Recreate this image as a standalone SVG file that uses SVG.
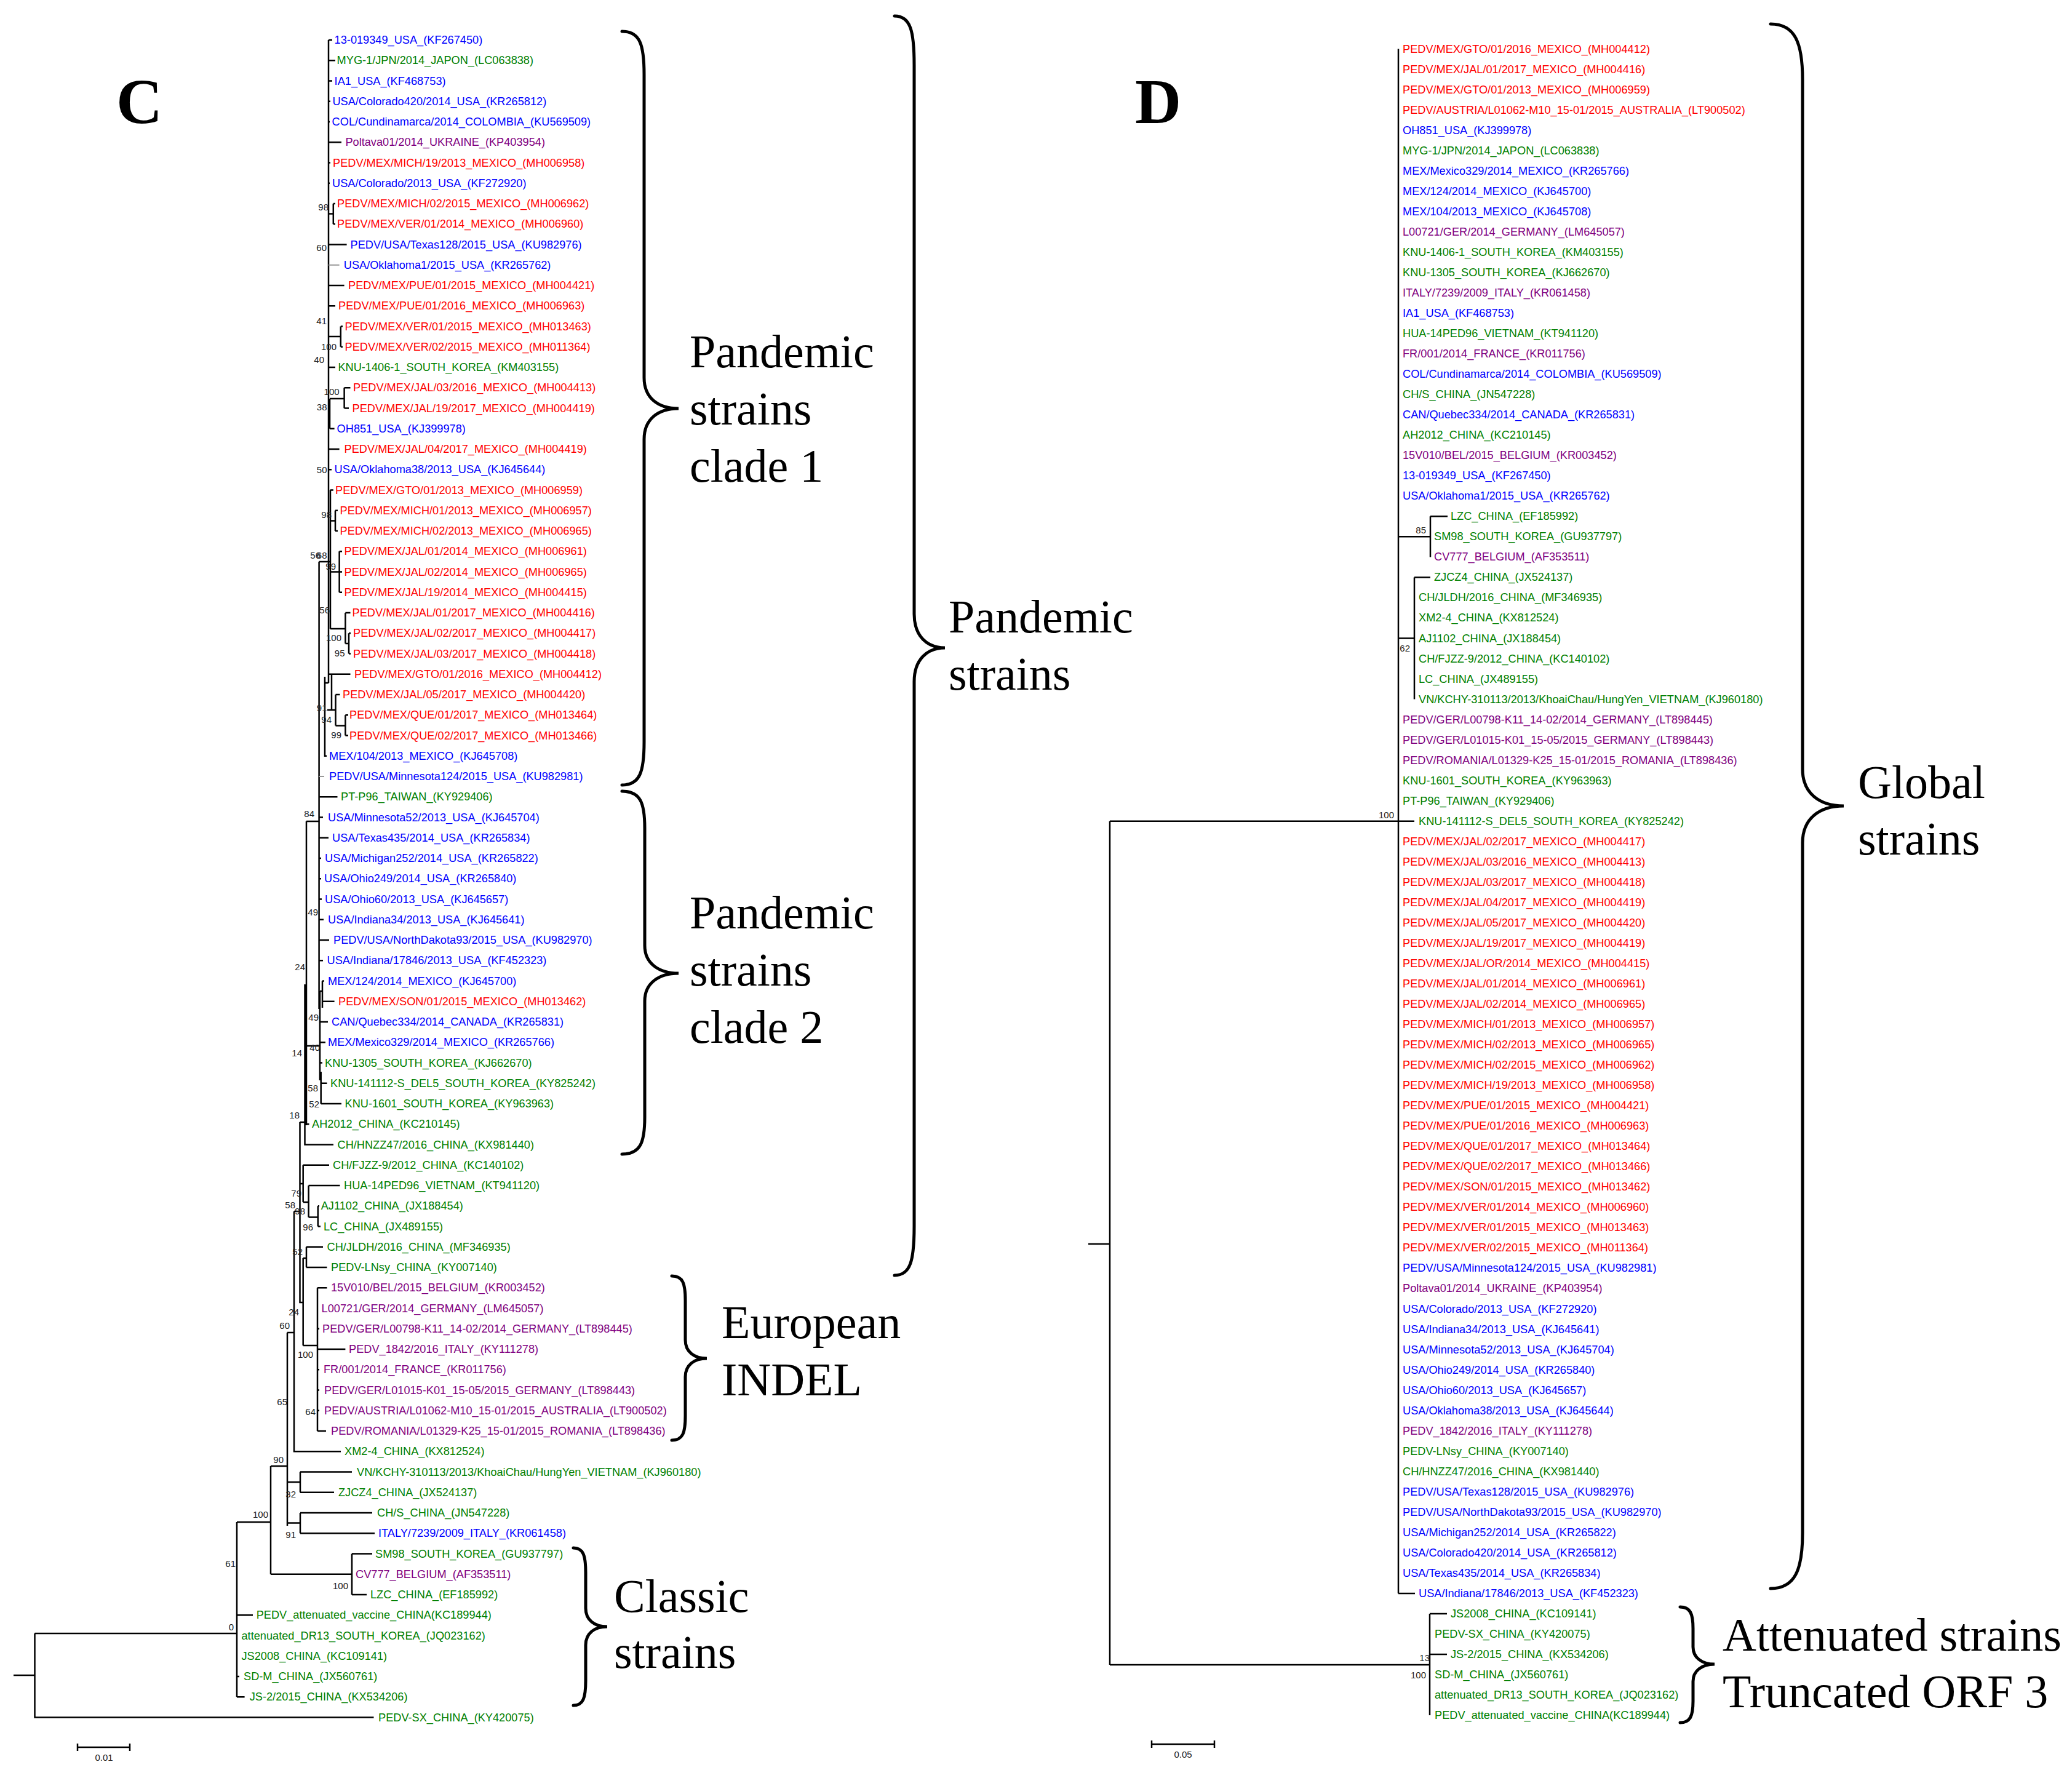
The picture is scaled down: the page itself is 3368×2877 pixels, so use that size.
<svg xmlns="http://www.w3.org/2000/svg" width="3368" height="2877" viewBox="0 0 3368 2877">
<style>
.t{font-family:"Liberation Sans",Arial,sans-serif;font-size:18.2px;dominant-baseline:central}
.r{fill:#ff0000}.b{fill:#0000ff}.g{fill:#008000}.p{fill:#800080}
.bs{font-family:"Liberation Sans",Arial,sans-serif;font-size:15px;fill:#222;text-anchor:end;dominant-baseline:central}
.big{font-family:"Liberation Serif","Times New Roman",serif;font-size:76px;fill:#000}
.pl{font-family:"Liberation Serif","Times New Roman",serif;font-size:104px;font-weight:bold;fill:#000}
.tree{fill:none;stroke:#000;stroke-width:2.5}
.gray{fill:none;stroke:#999;stroke-width:2}
.brace{fill:none;stroke:#000;stroke-width:5;stroke-linecap:round}
.sb{font-family:"Liberation Sans",Arial,sans-serif;font-size:15px;fill:#222;text-anchor:middle;dominant-baseline:central}
</style>
<rect width="3368" height="2877" fill="#fff"/>
<text class="pl" x="189" y="200">C</text>
<text class="pl" x="1845" y="200">D</text>
<g id="connectors">
<path class="tree" d="M534,65V1110 M534,65H540 M534,98.25H545 M534,131.5H540 M534,164.75H537 M534,198H536 M534,231.25H555 M534,264.5H537 M534,297.75H536 M534,347.6H541.8 M541.8,331V364.25 M541.8,331H545 M541.8,364.25H545 M534,397.5H563.6 M534,464H559.6 M534,497.25H545 M534,547H553.8 M553.8,530.5V563.75 M553.8,530.5H557 M553.8,563.75H557 M534,597H545 M536,648V696.75 M536,648H559.6 M559.6,630.25V663.5 M559.6,630.25H569.5 M559.6,663.5H567 M536,696.75H543.6 M534,730H551.6 M534,763.25H539 M518.6,913H537 M537,796.5V1022 M537,796.5H541.8 M537,846.4H545 M545,829.75V863 M545,829.75H549 M545,863H549 M537,929.5H551.6 M551.6,896.25V962.75 M551.6,896.25H556 M551.6,929.5H556 M551.6,962.75H556 M537,1022H561.4 M561.4,996V1046 M561.4,996H569.5 M561.4,1046H567 M567,1029.25V1062.5 M567,1029.25H570 M567,1062.5H570 M534,1095.75H569.5 M539,1095.75V1154 M532,1154H545.5 M545.5,1129V1179.5 M545.5,1129H552.5 M545.5,1179.5H561.4 M561.4,1162.25V1195.5 M561.4,1162.25H566 M561.4,1195.5H566 M528,1100V1228.75H531 M528,1110H534 M518.6,913V1640 M498,1335H518.6 M518.6,1295.25H548.5 M518.6,1328.5H525 M518.6,1361.75H534 M518.6,1395H522 M518.6,1428.25H522 M518.6,1461.5H523 M518.6,1494.75H526 M518.6,1528H535 M518.6,1561.25H525 M520,1611H524 M524,1594.5V1638 M524,1594.5H527 M524,1627.75H543.6 M520,1611V1756 M520,1661H533 M520,1694.25H529 M520,1727.5H524 M521.7,1742V1794 M521.7,1760.75H531.5 M521.7,1794H555 M498,1335V1829 M498,1700H520 M498,1827.25H502.5 M495.5,1600V1860.5H542 M487.5,1824H498 M487.5,1824V2117H492.7 M487.5,1924H492.7 M492.7,1893.75V1954 M492.7,1893.75H535 M492.7,1954H501.6 M501.6,1927V1978.6 M501.6,1927H552.5 M501.6,1978.6H516.8 M516.8,1960.25V1993.5 M516.8,1960.25H519 M516.8,1993.5H521 M492.7,2045V2187 M492.7,2045H498 M498,2026.75V2060 M498,2026.75H525 M498,2060H531.5 M492.7,2187H516 M516,2093.25V2326 M516,2093.25H531.5 M516,2159.75H519 M516,2193H561.4 M516,2226.25H519 M516,2259.5H519 M516,2292.75H519 M516,2326H530 M478,1969H487.5 M478,1969V2359.25H554 M467,2166H478 M467,2166V2480 M467,2409H488 M488,2392.5V2425.75 M488,2392.5H572 M488,2425.75H543 M467,2475.6H488 M488,2459V2492.25 M488,2459H605 M488,2492.25H609 M440,2383H467 M440,2383V2558.75 M440,2558.75H572 M572,2525.5V2592 M572,2525.5H605 M572,2592H596 M385,2474H440 M385,2474V2758.25 M385,2625.25H411 M385,2725H389 M385,2758.25H397.6 M56.5,2655H385 M56.5,2655V2791.5H607.5 M22,2723H56.5"/>
<path class="gray" d="M534,430.75H551.6 M518.6,1262H527"/>
<path class="tree" d="M1769,2022H1804 M1804,1334.7V2706 M1804,1334.7H2299 M2273,872.3H2325 M2325,839.3V905.4 M2325,839.3H2353 M2273,1037.5H2299 M2299,938.4V1136.6 M2299,938.4H2325 M2273,2589.9H2300 M1804,2706H2324 M2324,2622.9V2788.1 M2324,2622.9H2352 M2324,2689H2352"/>
<path class="tree" stroke-width="3.2" d="M2273,79.6V2589.9"/>
<path class="tree" d="M126,2840H211 M126,2834V2846 M211,2834V2846 M1872,2835H1974 M1872,2829V2841 M1974,2829V2841"/>
</g>
<text class="sb" x="169" y="2856">0.01</text>
<text class="sb" x="1923" y="2851">0.05</text>
<g id="bootstrap-C">
<text class="bs" x="534" y="336">98</text><text class="bs" x="531" y="402.5">60</text><text class="bs" x="531" y="521">41</text><text class="bs" x="547" y="563">100</text><text class="bs" x="527" y="584.6">40</text><text class="bs" x="551.6" y="636">100</text><text class="bs" x="531.5" y="661.4">38</text><text class="bs" x="531.5" y="763">50</text><text class="bs" x="539" y="836">98</text><text class="bs" x="521" y="902">56</text><text class="bs" x="531.5" y="902">68</text><text class="bs" x="546" y="920">99</text><text class="bs" x="536" y="991">56</text><text class="bs" x="555" y="1036">100</text><text class="bs" x="560.5" y="1061">95</text><text class="bs" x="531.5" y="1150">91</text><text class="bs" x="539" y="1169">94</text><text class="bs" x="555" y="1194">99</text><text class="bs" x="511" y="1322">84</text><text class="bs" x="517" y="1482">49</text><text class="bs" x="496" y="1571">24</text><text class="bs" x="518" y="1653">49</text><text class="bs" x="520" y="1702.5">40</text><text class="bs" x="491" y="1711">14</text><text class="bs" x="517" y="1768.6">58</text><text class="bs" x="519" y="1794">52</text><text class="bs" x="487" y="1812.5">18</text><text class="bs" x="490" y="1939">79</text><text class="bs" x="480" y="1958">58</text><text class="bs" x="496" y="1968.6">98</text><text class="bs" x="509" y="1994">96</text><text class="bs" x="492" y="2034.6">52</text><text class="bs" x="486" y="2132">24</text><text class="bs" x="471" y="2154">60</text><text class="bs" x="509" y="2201">100</text><text class="bs" x="467" y="2278">65</text><text class="bs" x="513" y="2294">64</text><text class="bs" x="461" y="2372">90</text><text class="bs" x="481" y="2428">32</text><text class="bs" x="436" y="2461">100</text><text class="bs" x="481" y="2494">91</text><text class="bs" x="383" y="2541">61</text><text class="bs" x="566" y="2577">100</text><text class="bs" x="380" y="2644">0</text>
</g>
<g id="bootstrap-D">
<text class="bs" x="2318" y="861">85</text><text class="bs" x="2292" y="1053">62</text><text class="bs" x="2266" y="1324">100</text><text class="bs" x="2324" y="2694">13</text><text class="bs" x="2318" y="2722">100</text>
</g>
<g id="tree-C-leaves">
<g id="c1"><text class="t b" x="543.6" y="65">13-019349_USA_(KF267450)</text></g>
<g id="c2"><text class="t g" x="547.6" y="98.25">MYG-1/JPN/2014_JAPON_(LC063838)</text></g>
<g id="c3"><text class="t b" x="543.6" y="131.5">IA1_USA_(KF468753)</text></g>
<g id="c4"><text class="t b" x="540.4" y="164.75">USA/Colorado420/2014_USA_(KR265812)</text></g>
<g id="c5"><text class="t b" x="539.6" y="198">COL/Cundinamarca/2014_COLOMBIA_(KU569509)</text></g>
<g id="c6"><text class="t p" x="561.4" y="231.25">Poltava01/2014_UKRAINE_(KP403954)</text></g>
<g id="c7"><text class="t r" x="541" y="264.5">PEDV/MEX/MICH/19/2013_MEXICO_(MH006958)</text></g>
<g id="c8"><text class="t b" x="540" y="297.75">USA/Colorado/2013_USA_(KF272920)</text></g>
<g id="c9"><text class="t r" x="548" y="331">PEDV/MEX/MICH/02/2015_MEXICO_(MH006962)</text></g>
<g id="c10"><text class="t r" x="548" y="364.25">PEDV/MEX/VER/01/2014_MEXICO_(MH006960)</text></g>
<g id="c11"><text class="t b" x="569.5" y="397.5">PEDV/USA/Texas128/2015_USA_(KU982976)</text></g>
<g id="c12"><text class="t b" x="558.75" y="430.75">USA/Oklahoma1/2015_USA_(KR265762)</text></g>
<g id="c13"><text class="t r" x="566" y="464">PEDV/MEX/PUE/01/2015_MEXICO_(MH004421)</text></g>
<g id="c14"><text class="t r" x="550" y="497.25">PEDV/MEX/PUE/01/2016_MEXICO_(MH006963)</text></g>
<g id="c15"><text class="t r" x="560.5" y="530.5">PEDV/MEX/VER/01/2015_MEXICO_(MH013463)</text></g>
<g id="c16"><text class="t r" x="560.5" y="563.75">PEDV/MEX/VER/02/2015_MEXICO_(MH011364)</text></g>
<g id="c17"><text class="t g" x="549.4" y="597">KNU-1406-1_SOUTH_KOREA_(KM403155)</text></g>
<g id="c18"><text class="t r" x="574" y="630.25">PEDV/MEX/JAL/03/2016_MEXICO_(MH004413)</text></g>
<g id="c19"><text class="t r" x="572.6" y="663.5">PEDV/MEX/JAL/19/2017_MEXICO_(MH004419)</text></g>
<g id="c20"><text class="t b" x="547.6" y="696.75">OH851_USA_(KJ399978)</text></g>
<g id="c21"><text class="t r" x="559.6" y="730">PEDV/MEX/JAL/04/2017_MEXICO_(MH004419)</text></g>
<g id="c22"><text class="t b" x="543.6" y="763.25">USA/Oklahoma38/2013_USA_(KJ645644)</text></g>
<g id="c23"><text class="t r" x="545" y="796.5">PEDV/MEX/GTO/01/2013_MEXICO_(MH006959)</text></g>
<g id="c24"><text class="t r" x="552.5" y="829.75">PEDV/MEX/MICH/01/2013_MEXICO_(MH006957)</text></g>
<g id="c25"><text class="t r" x="552.5" y="863">PEDV/MEX/MICH/02/2013_MEXICO_(MH006965)</text></g>
<g id="c26"><text class="t r" x="559.6" y="896.25">PEDV/MEX/JAL/01/2014_MEXICO_(MH006961)</text></g>
<g id="c27"><text class="t r" x="559.6" y="929.5">PEDV/MEX/JAL/02/2014_MEXICO_(MH006965)</text></g>
<g id="c28"><text class="t r" x="559.6" y="962.75">PEDV/MEX/JAL/19/2014_MEXICO_(MH004415)</text></g>
<g id="c29"><text class="t r" x="572.6" y="996">PEDV/MEX/JAL/01/2017_MEXICO_(MH004416)</text></g>
<g id="c30"><text class="t r" x="574" y="1029.25">PEDV/MEX/JAL/02/2017_MEXICO_(MH004417)</text></g>
<g id="c31"><text class="t r" x="574" y="1062.5">PEDV/MEX/JAL/03/2017_MEXICO_(MH004418)</text></g>
<g id="c32"><text class="t r" x="576" y="1095.75">PEDV/MEX/GTO/01/2016_MEXICO_(MH004412)</text></g>
<g id="c33"><text class="t r" x="557" y="1129">PEDV/MEX/JAL/05/2017_MEXICO_(MH004420)</text></g>
<g id="c34"><text class="t r" x="568" y="1162.25">PEDV/MEX/QUE/01/2017_MEXICO_(MH013464)</text></g>
<g id="c35"><text class="t r" x="568" y="1195.5">PEDV/MEX/QUE/02/2017_MEXICO_(MH013466)</text></g>
<g id="c36"><text class="t b" x="535" y="1228.75">MEX/104/2013_MEXICO_(KJ645708)</text></g>
<g id="c37"><text class="t b" x="535" y="1262">PEDV/USA/Minnesota124/2015_USA_(KU982981)</text></g>
<g id="c38"><text class="t g" x="554" y="1295.25">PT-P96_TAIWAN_(KY929406)</text></g>
<g id="c39"><text class="t b" x="533" y="1328.5">USA/Minnesota52/2013_USA_(KJ645704)</text></g>
<g id="c40"><text class="t b" x="540" y="1361.75">USA/Texas435/2014_USA_(KR265834)</text></g>
<g id="c41"><text class="t b" x="528" y="1395">USA/Michigan252/2014_USA_(KR265822)</text></g>
<g id="c42"><text class="t b" x="527" y="1428.25">USA/Ohio249/2014_USA_(KR265840)</text></g>
<g id="c43"><text class="t b" x="528" y="1461.5">USA/Ohio60/2013_USA_(KJ645657)</text></g>
<g id="c44"><text class="t b" x="533" y="1494.75">USA/Indiana34/2013_USA_(KJ645641)</text></g>
<g id="c45"><text class="t b" x="542" y="1528">PEDV/USA/NorthDakota93/2015_USA_(KU982970)</text></g>
<g id="c46"><text class="t b" x="531.5" y="1561.25">USA/Indiana/17846/2013_USA_(KF452323)</text></g>
<g id="c47"><text class="t b" x="533" y="1594.5">MEX/124/2014_MEXICO_(KJ645700)</text></g>
<g id="c48"><text class="t r" x="550" y="1627.75">PEDV/MEX/SON/01/2015_MEXICO_(MH013462)</text></g>
<g id="c49"><text class="t b" x="539" y="1661">CAN/Quebec334/2014_CANADA_(KR265831)</text></g>
<g id="c50"><text class="t b" x="533" y="1694.25">MEX/Mexico329/2014_MEXICO_(KR265766)</text></g>
<g id="c51"><text class="t g" x="528" y="1727.5">KNU-1305_SOUTH_KOREA_(KJ662670)</text></g>
<g id="c52"><text class="t g" x="537" y="1760.75">KNU-141112-S_DEL5_SOUTH_KOREA_(KY825242)</text></g>
<g id="c53"><text class="t g" x="560.5" y="1794">KNU-1601_SOUTH_KOREA_(KY963963)</text></g>
<g id="c54"><text class="t g" x="507" y="1827.25">AH2012_CHINA_(KC210145)</text></g>
<g id="c55"><text class="t g" x="548.5" y="1860.5">CH/HNZZ47/2016_CHINA_(KX981440)</text></g>
<g id="c56"><text class="t g" x="541" y="1893.75">CH/FJZZ-9/2012_CHINA_(KC140102)</text></g>
<g id="c57"><text class="t g" x="559" y="1927">HUA-14PED96_VIETNAM_(KT941120)</text></g>
<g id="c58"><text class="t g" x="521.7" y="1960.25">AJ1102_CHINA_(JX188454)</text></g>
<g id="c59"><text class="t g" x="526" y="1993.5">LC_CHINA_(JX489155)</text></g>
<g id="c60"><text class="t g" x="531.5" y="2026.75">CH/JLDH/2016_CHINA_(MF346935)</text></g>
<g id="c61"><text class="t g" x="538" y="2060">PEDV-LNsy_CHINA_(KY007140)</text></g>
<g id="c62"><text class="t p" x="538" y="2093.25">15V010/BEL/2015_BELGIUM_(KR003452)</text></g>
<g id="c63"><text class="t p" x="522.6" y="2126.5">L00721/GER/2014_GERMANY_(LM645057)</text></g>
<g id="c64"><text class="t p" x="524" y="2159.75">PEDV/GER/L00798-K11_14-02/2014_GERMANY_(LT898445)</text></g>
<g id="c65"><text class="t p" x="567" y="2193">PEDV_1842/2016_ITALY_(KY111278)</text></g>
<g id="c66"><text class="t p" x="526" y="2226.25">FR/001/2014_FRANCE_(KR011756)</text></g>
<g id="c67"><text class="t p" x="527" y="2259.5">PEDV/GER/L01015-K01_15-05/2015_GERMANY_(LT898443)</text></g>
<g id="c68"><text class="t p" x="527" y="2292.75">PEDV/AUSTRIA/L01062-M10_15-01/2015_AUSTRALIA_(LT900502)</text></g>
<g id="c69"><text class="t p" x="538" y="2326">PEDV/ROMANIA/L01329-K25_15-01/2015_ROMANIA_(LT898436)</text></g>
<g id="c70"><text class="t g" x="560" y="2359.25">XM2-4_CHINA_(KX812524)</text></g>
<g id="c71"><text class="t g" x="580" y="2392.5">VN/KCHY-310113/2013/KhoaiChau/HungYen_VIETNAM_(KJ960180)</text></g>
<g id="c72"><text class="t g" x="550" y="2425.75">ZJCZ4_CHINA_(JX524137)</text></g>
<g id="c73"><text class="t g" x="613" y="2459">CH/S_CHINA_(JN547228)</text></g>
<g id="c74"><text class="t b" x="615" y="2492.25">ITALY/7239/2009_ITALY_(KR061458)</text></g>
<g id="c75"><text class="t g" x="610" y="2525.5">SM98_SOUTH_KOREA_(GU937797)</text></g>
<g id="c76"><text class="t p" x="578" y="2558.75">CV777_BELGIUM_(AF353511)</text></g>
<g id="c77"><text class="t g" x="602" y="2592">LZC_CHINA_(EF185992)</text></g>
<g id="c78"><text class="t g" x="416.7" y="2625.25">PEDV_attenuated_vaccine_CHINA(KC189944)</text></g>
<g id="c79"><text class="t g" x="392.5" y="2658.5">attenuated_DR13_SOUTH_KOREA_(JQ023162)</text></g>
<g id="c80"><text class="t g" x="392.5" y="2691.75">JS2008_CHINA_(KC109141)</text></g>
<g id="c81"><text class="t g" x="396" y="2725">SD-M_CHINA_(JX560761)</text></g>
<g id="c82"><text class="t g" x="405.7" y="2758.25">JS-2/2015_CHINA_(KX534206)</text></g>
<g id="c83"><text class="t g" x="615" y="2791.5">PEDV-SX_CHINA_(KY420075)</text></g>
</g>
<g id="tree-D-leaves">
<g id="d1"><text class="t r" x="2280" y="79.6">PEDV/MEX/GTO/01/2016_MEXICO_(MH004412)</text></g>
<g id="d2"><text class="t r" x="2280" y="112.6">PEDV/MEX/JAL/01/2017_MEXICO_(MH004416)</text></g>
<g id="d3"><text class="t r" x="2280" y="145.7">PEDV/MEX/GTO/01/2013_MEXICO_(MH006959)</text></g>
<g id="d4"><text class="t r" x="2280" y="178.7">PEDV/AUSTRIA/L01062-M10_15-01/2015_AUSTRALIA_(LT900502)</text></g>
<g id="d5"><text class="t b" x="2280" y="211.7">OH851_USA_(KJ399978)</text></g>
<g id="d6"><text class="t g" x="2280" y="244.8">MYG-1/JPN/2014_JAPON_(LC063838)</text></g>
<g id="d7"><text class="t b" x="2280" y="277.8">MEX/Mexico329/2014_MEXICO_(KR265766)</text></g>
<g id="d8"><text class="t b" x="2280" y="310.8">MEX/124/2014_MEXICO_(KJ645700)</text></g>
<g id="d9"><text class="t b" x="2280" y="343.8">MEX/104/2013_MEXICO_(KJ645708)</text></g>
<g id="d10"><text class="t p" x="2280" y="376.9">L00721/GER/2014_GERMANY_(LM645057)</text></g>
<g id="d11"><text class="t g" x="2280" y="409.9">KNU-1406-1_SOUTH_KOREA_(KM403155)</text></g>
<g id="d12"><text class="t g" x="2280" y="442.9">KNU-1305_SOUTH_KOREA_(KJ662670)</text></g>
<g id="d13"><text class="t p" x="2280" y="476">ITALY/7239/2009_ITALY_(KR061458)</text></g>
<g id="d14"><text class="t b" x="2280" y="509">IA1_USA_(KF468753)</text></g>
<g id="d15"><text class="t g" x="2280" y="542">HUA-14PED96_VIETNAM_(KT941120)</text></g>
<g id="d16"><text class="t p" x="2280" y="575.1">FR/001/2014_FRANCE_(KR011756)</text></g>
<g id="d17"><text class="t b" x="2280" y="608.1">COL/Cundinamarca/2014_COLOMBIA_(KU569509)</text></g>
<g id="d18"><text class="t g" x="2280" y="641.1">CH/S_CHINA_(JN547228)</text></g>
<g id="d19"><text class="t b" x="2280" y="674.1">CAN/Quebec334/2014_CANADA_(KR265831)</text></g>
<g id="d20"><text class="t g" x="2280" y="707.2">AH2012_CHINA_(KC210145)</text></g>
<g id="d21"><text class="t p" x="2280" y="740.2">15V010/BEL/2015_BELGIUM_(KR003452)</text></g>
<g id="d22"><text class="t b" x="2280" y="773.2">13-019349_USA_(KF267450)</text></g>
<g id="d23"><text class="t b" x="2280" y="806.3">USA/Oklahoma1/2015_USA_(KR265762)</text></g>
<g id="d24"><text class="t g" x="2358" y="839.3">LZC_CHINA_(EF185992)</text></g>
<g id="d25"><text class="t g" x="2331" y="872.3">SM98_SOUTH_KOREA_(GU937797)</text></g>
<g id="d26"><text class="t p" x="2331" y="905.4">CV777_BELGIUM_(AF353511)</text></g>
<g id="d27"><text class="t g" x="2331" y="938.4">ZJCZ4_CHINA_(JX524137)</text></g>
<g id="d28"><text class="t g" x="2306" y="971.4">CH/JLDH/2016_CHINA_(MF346935)</text></g>
<g id="d29"><text class="t g" x="2306" y="1004.4">XM2-4_CHINA_(KX812524)</text></g>
<g id="d30"><text class="t g" x="2306" y="1037.5">AJ1102_CHINA_(JX188454)</text></g>
<g id="d31"><text class="t g" x="2306" y="1070.5">CH/FJZZ-9/2012_CHINA_(KC140102)</text></g>
<g id="d32"><text class="t g" x="2306" y="1103.5">LC_CHINA_(JX489155)</text></g>
<g id="d33"><text class="t g" x="2306" y="1136.6">VN/KCHY-310113/2013/KhoaiChau/HungYen_VIETNAM_(KJ960180)</text></g>
<g id="d34"><text class="t p" x="2280" y="1169.6">PEDV/GER/L00798-K11_14-02/2014_GERMANY_(LT898445)</text></g>
<g id="d35"><text class="t p" x="2280" y="1202.6">PEDV/GER/L01015-K01_15-05/2015_GERMANY_(LT898443)</text></g>
<g id="d36"><text class="t p" x="2280" y="1235.7">PEDV/ROMANIA/L01329-K25_15-01/2015_ROMANIA_(LT898436)</text></g>
<g id="d37"><text class="t g" x="2280" y="1268.7">KNU-1601_SOUTH_KOREA_(KY963963)</text></g>
<g id="d38"><text class="t g" x="2280" y="1301.7">PT-P96_TAIWAN_(KY929406)</text></g>
<g id="d39"><text class="t g" x="2306" y="1334.7">KNU-141112-S_DEL5_SOUTH_KOREA_(KY825242)</text></g>
<g id="d40"><text class="t r" x="2280" y="1367.8">PEDV/MEX/JAL/02/2017_MEXICO_(MH004417)</text></g>
<g id="d41"><text class="t r" x="2280" y="1400.8">PEDV/MEX/JAL/03/2016_MEXICO_(MH004413)</text></g>
<g id="d42"><text class="t r" x="2280" y="1433.8">PEDV/MEX/JAL/03/2017_MEXICO_(MH004418)</text></g>
<g id="d43"><text class="t r" x="2280" y="1466.9">PEDV/MEX/JAL/04/2017_MEXICO_(MH004419)</text></g>
<g id="d44"><text class="t r" x="2280" y="1499.9">PEDV/MEX/JAL/05/2017_MEXICO_(MH004420)</text></g>
<g id="d45"><text class="t r" x="2280" y="1532.9">PEDV/MEX/JAL/19/2017_MEXICO_(MH004419)</text></g>
<g id="d46"><text class="t r" x="2280" y="1565.9">PEDV/MEX/JAL/OR/2014_MEXICO_(MH004415)</text></g>
<g id="d47"><text class="t r" x="2280" y="1599">PEDV/MEX/JAL/01/2014_MEXICO_(MH006961)</text></g>
<g id="d48"><text class="t r" x="2280" y="1632">PEDV/MEX/JAL/02/2014_MEXICO_(MH006965)</text></g>
<g id="d49"><text class="t r" x="2280" y="1665">PEDV/MEX/MICH/01/2013_MEXICO_(MH006957)</text></g>
<g id="d50"><text class="t r" x="2280" y="1698.1">PEDV/MEX/MICH/02/2013_MEXICO_(MH006965)</text></g>
<g id="d51"><text class="t r" x="2280" y="1731.1">PEDV/MEX/MICH/02/2015_MEXICO_(MH006962)</text></g>
<g id="d52"><text class="t r" x="2280" y="1764.1">PEDV/MEX/MICH/19/2013_MEXICO_(MH006958)</text></g>
<g id="d53"><text class="t r" x="2280" y="1797.2">PEDV/MEX/PUE/01/2015_MEXICO_(MH004421)</text></g>
<g id="d54"><text class="t r" x="2280" y="1830.2">PEDV/MEX/PUE/01/2016_MEXICO_(MH006963)</text></g>
<g id="d55"><text class="t r" x="2280" y="1863.2">PEDV/MEX/QUE/01/2017_MEXICO_(MH013464)</text></g>
<g id="d56"><text class="t r" x="2280" y="1896.2">PEDV/MEX/QUE/02/2017_MEXICO_(MH013466)</text></g>
<g id="d57"><text class="t r" x="2280" y="1929.3">PEDV/MEX/SON/01/2015_MEXICO_(MH013462)</text></g>
<g id="d58"><text class="t r" x="2280" y="1962.3">PEDV/MEX/VER/01/2014_MEXICO_(MH006960)</text></g>
<g id="d59"><text class="t r" x="2280" y="1995.3">PEDV/MEX/VER/01/2015_MEXICO_(MH013463)</text></g>
<g id="d60"><text class="t r" x="2280" y="2028.4">PEDV/MEX/VER/02/2015_MEXICO_(MH011364)</text></g>
<g id="d61"><text class="t b" x="2280" y="2061.4">PEDV/USA/Minnesota124/2015_USA_(KU982981)</text></g>
<g id="d62"><text class="t p" x="2280" y="2094.4">Poltava01/2014_UKRAINE_(KP403954)</text></g>
<g id="d63"><text class="t b" x="2280" y="2127.5">USA/Colorado/2013_USA_(KF272920)</text></g>
<g id="d64"><text class="t b" x="2280" y="2160.5">USA/Indiana34/2013_USA_(KJ645641)</text></g>
<g id="d65"><text class="t b" x="2280" y="2193.5">USA/Minnesota52/2013_USA_(KJ645704)</text></g>
<g id="d66"><text class="t b" x="2280" y="2226.5">USA/Ohio249/2014_USA_(KR265840)</text></g>
<g id="d67"><text class="t b" x="2280" y="2259.6">USA/Ohio60/2013_USA_(KJ645657)</text></g>
<g id="d68"><text class="t b" x="2280" y="2292.6">USA/Oklahoma38/2013_USA_(KJ645644)</text></g>
<g id="d69"><text class="t p" x="2280" y="2325.6">PEDV_1842/2016_ITALY_(KY111278)</text></g>
<g id="d70"><text class="t g" x="2280" y="2358.7">PEDV-LNsy_CHINA_(KY007140)</text></g>
<g id="d71"><text class="t g" x="2280" y="2391.7">CH/HNZZ47/2016_CHINA_(KX981440)</text></g>
<g id="d72"><text class="t b" x="2280" y="2424.7">PEDV/USA/Texas128/2015_USA_(KU982976)</text></g>
<g id="d73"><text class="t b" x="2280" y="2457.8">PEDV/USA/NorthDakota93/2015_USA_(KU982970)</text></g>
<g id="d74"><text class="t b" x="2280" y="2490.8">USA/Michigan252/2014_USA_(KR265822)</text></g>
<g id="d75"><text class="t b" x="2280" y="2523.8">USA/Colorado420/2014_USA_(KR265812)</text></g>
<g id="d76"><text class="t b" x="2280" y="2556.8">USA/Texas435/2014_USA_(KR265834)</text></g>
<g id="d77"><text class="t b" x="2306" y="2589.9">USA/Indiana/17846/2013_USA_(KF452323)</text></g>
<g id="d78"><text class="t g" x="2358" y="2622.9">JS2008_CHINA_(KC109141)</text></g>
<g id="d79"><text class="t g" x="2332" y="2655.9">PEDV-SX_CHINA_(KY420075)</text></g>
<g id="d80"><text class="t g" x="2358" y="2689">JS-2/2015_CHINA_(KX534206)</text></g>
<g id="d81"><text class="t g" x="2332" y="2722">SD-M_CHINA_(JX560761)</text></g>
<g id="d82"><text class="t g" x="2332" y="2755">attenuated_DR13_SOUTH_KOREA_(JQ023162)</text></g>
<g id="d83"><text class="t g" x="2332" y="2788.1">PEDV_attenuated_vaccine_CHINA(KC189944)</text></g>
</g>
<g id="braces">
<path class="brace" d="M1011,51 C1040,51 1047,72 1047,121 V614 C1047,647 1070,664 1103,664 C1070,664 1047,681 1047,714 V1206 C1047,1255 1040,1276 1011,1276"/>
<path class="brace" d="M1011,1286 C1041,1286 1048,1305 1048,1346 V1537 C1048,1566 1071,1582 1103,1582 C1071,1582 1048,1598 1048,1627 V1816 C1048,1857 1041,1876 1011,1876"/>
<path class="brace" d="M1092,2074 C1110,2074 1114,2086 1114,2114 V2178 C1114,2197 1128,2208 1149,2208 C1128,2208 1114,2219 1114,2238 V2301 C1114,2329 1110,2341 1092,2341"/>
<path class="brace" d="M932,2516 C948,2516 952,2528 952,2556 V2614 C952,2633 966,2644 987,2644 C966,2644 952,2655 952,2674 V2732 C952,2760 948,2772 932,2772"/>
<path class="brace" d="M1454,26 C1480,26 1486,50 1486,106 V998 C1486,1034 1507,1053 1536,1053 C1507,1053 1486,1072 1486,1108 V1993 C1486,2049 1480,2073 1454,2073"/>
<path class="brace" d="M2878,39 C2918,39 2930,70 2930,129 V1250 C2930,1289 2957,1310 2997,1310 C2957,1310 2930,1331 2930,1370 V2492 C2930,2551 2918,2582 2878,2582"/>
<path class="brace" d="M2731,2612 C2747,2612 2752,2622 2752,2647 V2677 C2752,2694 2766,2705 2787,2705 C2766,2705 2752,2716 2752,2733 V2765 C2752,2790 2747,2800 2731,2800"/>
</g>
<g id="group-labels">
<g id="lbl-clade1"><text class="big" x="1121" y="597">Pandemic</text><text class="big" x="1121" y="690">strains</text><text class="big" x="1121" y="783">clade 1</text></g>
<g id="lbl-clade2"><text class="big" x="1121" y="1509">Pandemic</text><text class="big" x="1121" y="1602">strains</text><text class="big" x="1121" y="1695">clade 2</text></g>
<g id="lbl-pandemic"><text class="big" x="1542" y="1028">Pandemic</text><text class="big" x="1542" y="1121">strains</text></g>
<g id="lbl-indel"><text class="big" x="1173" y="2175">European</text><text class="big" x="1173" y="2268">INDEL</text></g>
<g id="lbl-classic"><text class="big" x="998" y="2620">Classic</text><text class="big" x="998" y="2711">strains</text></g>
<g id="lbl-global"><text class="big" x="3020" y="1297">Global</text><text class="big" x="3020" y="1389">strains</text></g>
<g id="lbl-atten"><text class="big" x="2800" y="2683">Attenuated strains</text><text class="big" x="2800" y="2775">Truncated ORF 3</text></g>
</g>
</svg>
